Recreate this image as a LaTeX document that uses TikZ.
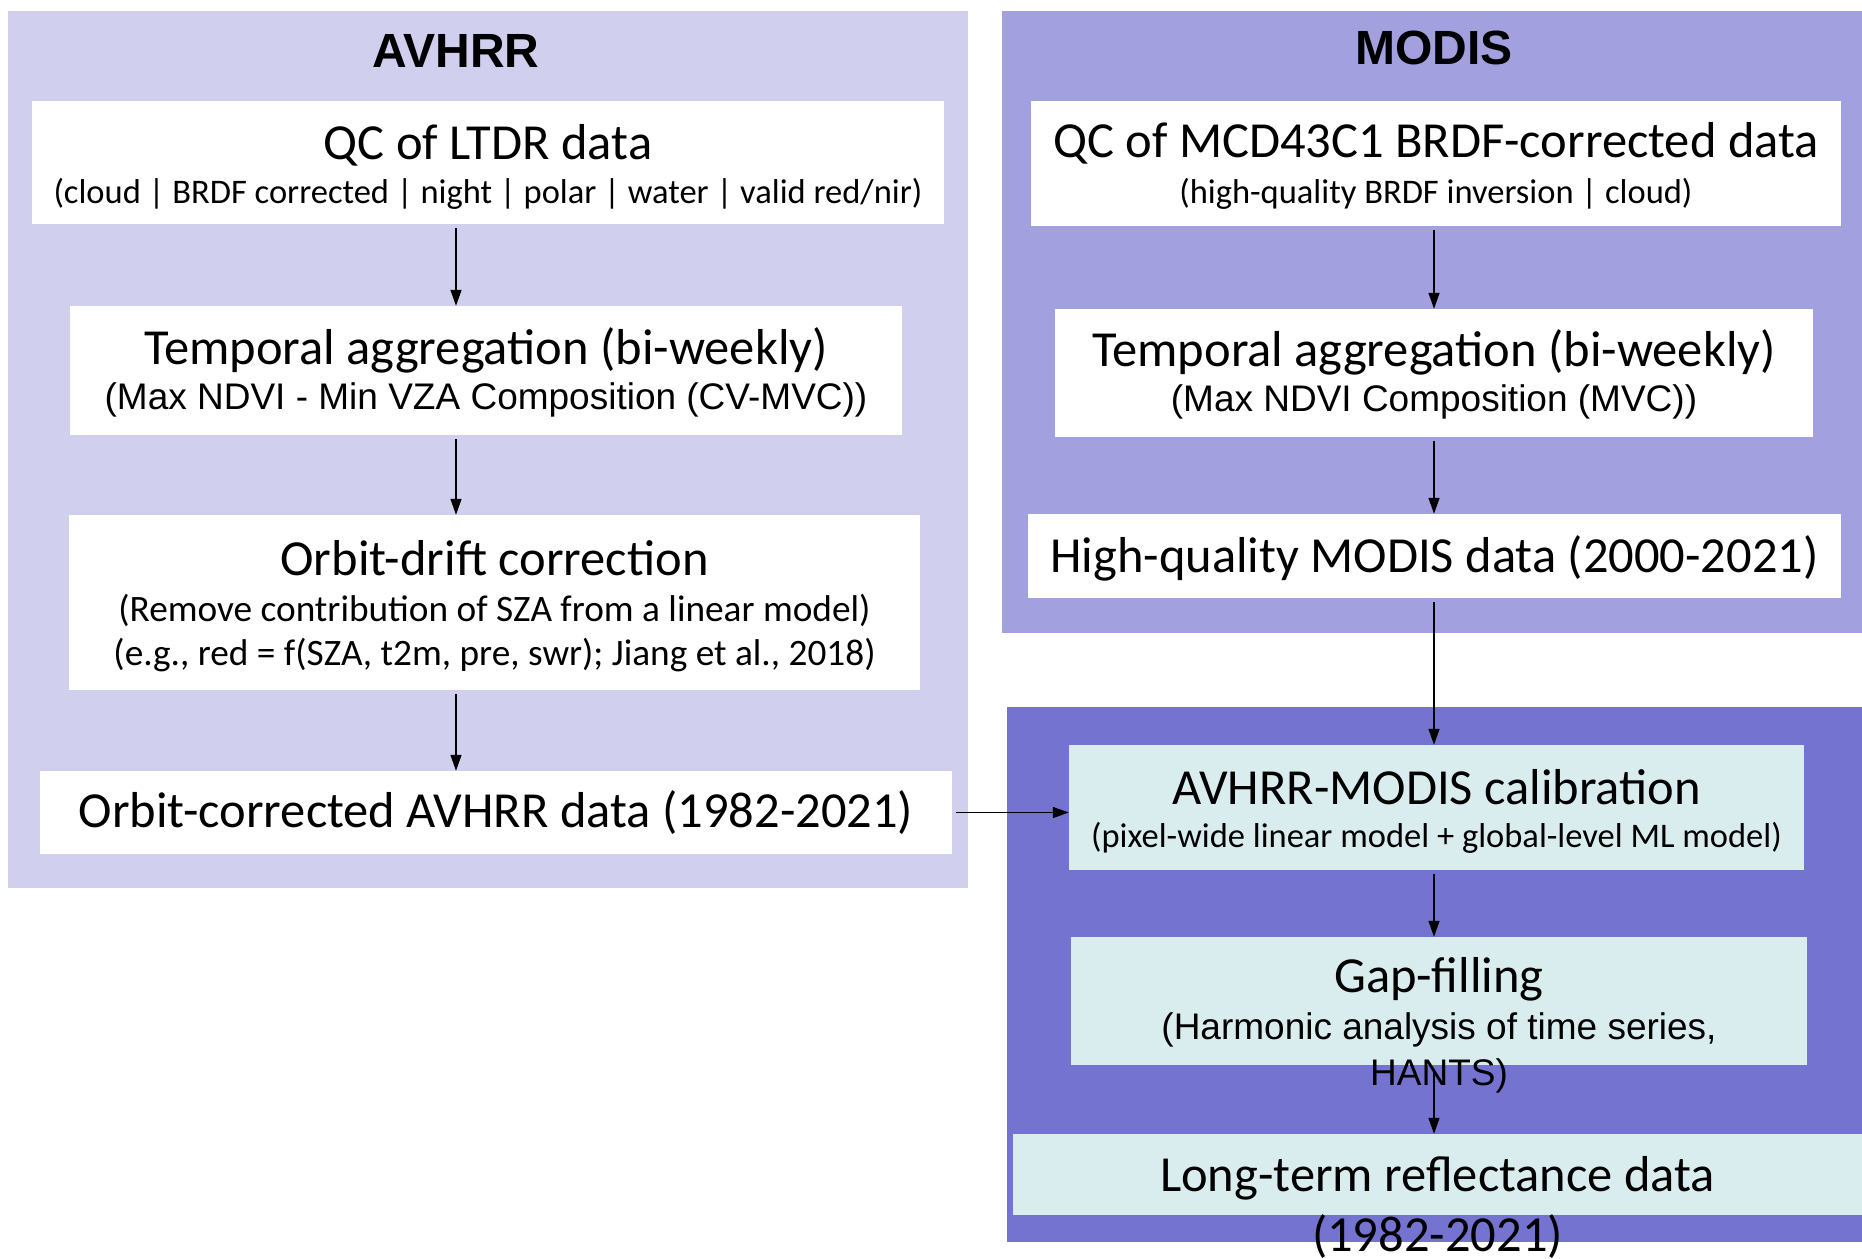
\documentclass[tikz,border=0pt]{standalone}
\usepackage{fontspec}
\setmainfont{Carlito}
\newfontfamily\arialfont{Liberation Sans}
\usetikzlibrary{arrows.meta}

\definecolor{avhrrbg}{RGB}{208,208,238}
\definecolor{modisbg}{RGB}{163,160,224}
\definecolor{calbg}{RGB}{116,116,208}
\definecolor{calbox}{RGB}{218,237,238}

\tikzset{
  box/.style={fill=white, inner sep=0pt},
  cbox/.style={fill=calbox, inner sep=0pt},
  hdr/.style={font=\arialfont\bfseries\fontsize{48}{57}\selectfont},
  ttl/.style={font=\fontsize{50.5}{60}\selectfont},
  sub/.style={font=\fontsize{34.5}{41}\selectfont},
  subb/.style={font=\fontsize{37.3}{45}\selectfont},
  suba/.style={font=\arialfont\fontsize{37}{46}\selectfont, align=center},
  arr/.style={-{Triangle[length=16pt,width=11pt]}, line width=1.5pt, shorten <=4pt}
}

\begin{document}
\begin{tikzpicture}[x=1pt, y=-1pt]

\useasboundingbox (0,0) rectangle (1862,1258);

% panels
\fill[avhrrbg] (8,11) rectangle (968,888);
\fill[modisbg] (1002,11) rectangle (1862,633);
\fill[calbg] (1007,707) rectangle (1862,1242);

% panel titles
\node[hdr] (avhrr) at (456,51) {AVHRR};
\node[hdr] (modis) at (1434,48) {MODIS};

% AVHRR boxes
\node[box, minimum width=912pt, minimum height=123pt] (a1) at (488,162.5) {};
\node[box, minimum width=832pt, minimum height=129pt] (a2) at (486,370.5) {};
\node[box, minimum width=851pt, minimum height=175pt] (a3) at (494.5,602.5) {};
\node[box, minimum width=912pt, minimum height=83pt] (a4) at (496,812.5) {};

% MODIS boxes
\node[box, minimum width=810pt, minimum height=125pt] (m1) at (1436,163.5) {};
\node[box, minimum width=758pt, minimum height=128pt] (m2) at (1434,373) {};
\node[box, minimum width=813pt, minimum height=84pt] (m3) at (1434.5,556) {};

% calibration boxes
\node[cbox, minimum width=735pt, minimum height=125pt] (c1) at (1436.5,807.5) {};
\node[cbox, minimum width=736pt, minimum height=128pt] (c2) at (1439,1001) {};
\node[cbox, minimum width=849pt, minimum height=81pt] (c3) at (1437.5,1174.5) {};

% AVHRR texts
\node[ttl] (a1t) at (488,145) {QC of LTDR data};
\node[sub] (a1s) at (488,194) {(cloud | BRDF corrected | night | polar | water | valid red/nir)};
\node[ttl] (a2t) at (486,350) {Temporal aggregation (bi-weekly)};
\node[suba] (a2s) at (486,400) {(Max NDVI - Min VZA Composition (CV-MVC))};
\node[ttl] (a3t) at (494.5,558) {Orbit-drift correction};
\node[subb] (a3s) at (494.5,610) {(Remove contribution of SZA from a linear model)};
\node[subb] (a3r) at (494.5,655) {(e.g., red = f(SZA, t2m, pre, swr); Jiang et al., 2018)};
\node[ttl] (a4t) at (496,813) {Orbit-corrected AVHRR data (1982-2021)};

% MODIS texts
\node[ttl] (m1t) at (1436,143) {QC of MCD43C1 BRDF-corrected data};
\node[sub] (m1s) at (1436,194) {(high-quality BRDF inversion | cloud)};
\node[ttl] (m2t) at (1434,352) {Temporal aggregation (bi-weekly)};
\node[suba] (m2s) at (1434,402) {(Max NDVI Composition (MVC))};
\node[ttl] (m3t) at (1434.5,558) {High-quality MODIS data (2000-2021)};

% calibration texts
\node[ttl] (c1t) at (1436.5,787) {AVHRR-MODIS calibration};
\node[sub] (c1s) at (1436.5,838) {(pixel-wide linear model + global-level ML model)};
\node[ttl] (c2t) at (1439,979) {Gap-filling};
\node[suba] (c2s) at (1439,1053) {(Harmonic analysis of time series,\\HANTS)};
\node[ttl, align=center] (c3t) at (1437.5,1207.5) {Long-term reflectance data\\(1982-2021)};

% arrows
\draw[arr] (a1.south -| avhrr) -- (a2.north -| avhrr);
\draw[arr] (a2.south -| avhrr) -- (a3.north -| avhrr);
\draw[arr] (a3.south -| avhrr) -- (a4.north -| avhrr);
\draw[arr] (a4.east) -- (a4.east -| c1.west);
\draw[arr] (m1.south -| modis) -- (m2.north -| modis);
\draw[arr] (m2.south -| modis) -- (m3.north -| modis);
\draw[arr] (m3.south -| modis) -- (c1.north -| modis);
\draw[arr] (c1.south -| modis) -- (c2.north -| modis);
\draw[arr] (c2.south -| modis) -- (c3.north -| modis);

\end{tikzpicture}
\end{document}
